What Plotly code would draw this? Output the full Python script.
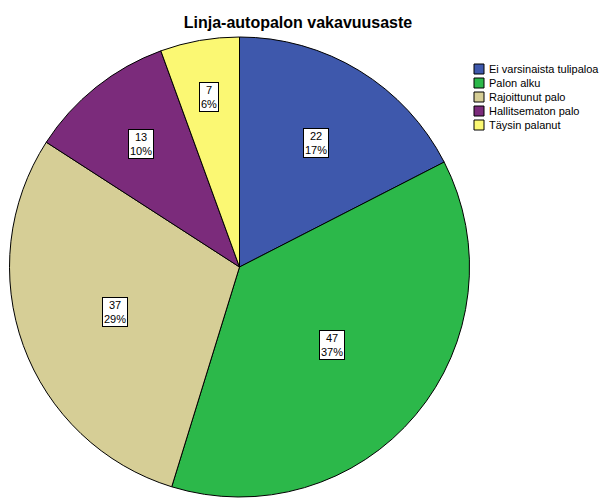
import math
import plotly.graph_objects as go

categories = ["Ei varsinaista tulipaloa", "Palon alku", "Rajoittunut palo", "Hallitsematon palo", "Täysin palanut"]
counts = [22, 47, 37, 13, 7]
colors = ["#3E58AC", "#2CB84A", "#D6CE96", "#7B2B7B", "#FBF873"]
title = "Linja-autopalon vakavuusaste"

W, H = 604, 503
CX, CY, R = 239.5, 267.0, 230.0
FONT = "Liberation Sans, Arial"

fig = go.Figure(go.Pie(
    labels=categories, values=counts, sort=False, direction="clockwise", rotation=0,
    marker=dict(colors=colors, line=dict(color="#000000", width=1)),
    textinfo="none", hoverinfo="label+value+percent", showlegend=False,
    domain=dict(x=[(CX - R) / W, (CX + R) / W], y=[1 - (CY + R) / H, 1 - (CY - R) / H]),
))

total = sum(counts)
cum = 0
for c in counts:
    share = c / total
    mid = (cum + c / 2) / total * 2 * math.pi
    a = share * math.pi
    centroid = 2 * math.sin(a) / (3 * a)
    rr = max(centroid, 0.828 - 1.37 * share) * R
    px = CX + rr * math.sin(mid)
    py = CY - rr * math.cos(mid)
    fig.add_annotation(
        x=px / W, y=1 - py / H, xref="paper", yref="paper", showarrow=False,
        xanchor="center", yanchor="middle",
        text=f"{c}<br>{round(share * 100)}%", align="center",
        font=dict(family=FONT, size=11, color="#000000"),
        bgcolor="white", bordercolor="black", borderwidth=1, borderpad=1,
    )
    cum += c

# legend drawn as shapes + text
LX, LY0, DY, SQ = 474, 69, 14, 10
for i, (lab, col) in enumerate(zip(categories, colors)):
    yc = LY0 + i * DY
    fig.add_shape(type="rect", xref="paper", yref="paper",
                  x0=LX / W, x1=(LX + SQ) / W, y0=1 - (yc + SQ / 2) / H, y1=1 - (yc - SQ / 2) / H,
                  fillcolor=col, line=dict(color="black", width=1))
    fig.add_annotation(x=(LX + SQ + 3) / W, y=1 - yc / H, xref="paper", yref="paper",
                       xanchor="left", yanchor="middle", showarrow=False, text=lab,
                       font=dict(family=FONT, size=11, color="#000000"))

fig.update_layout(
    width=W, height=H, margin=dict(l=0, r=0, t=0, b=0),
    paper_bgcolor="white", plot_bgcolor="white",
    title=dict(text=f"<b>{title}</b>", x=298 / W, xanchor="center", y=1 - 22 / H, yanchor="middle",
               font=dict(family=FONT, size=16, color="black")),
    showlegend=False,
)

fig.write_html("out.html")
